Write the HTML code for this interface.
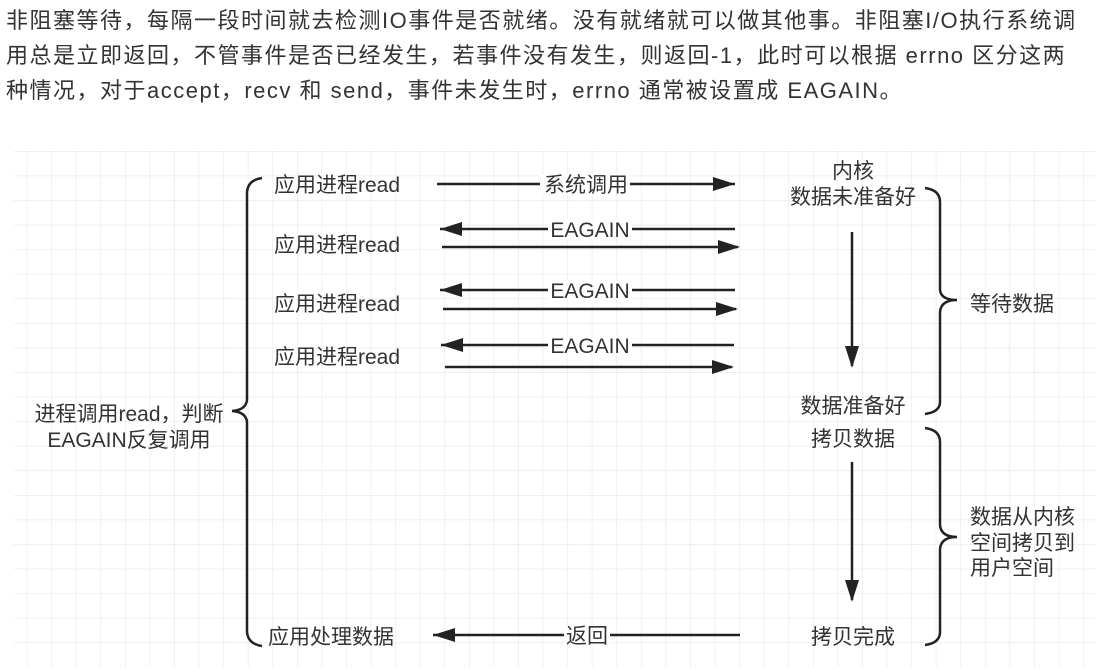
<!DOCTYPE html>
<html><head><meta charset="utf-8"><style>
html,body{margin:0;padding:0;background:#fff;width:1118px;height:670px;overflow:hidden}
.t{position:absolute;left:6px;top:3px;width:1200px;font-family:"Liberation Sans","Noto Sans CJK SC",sans-serif;font-size:22px;letter-spacing:1.5px;line-height:35px;color:#333;white-space:nowrap}
svg{position:absolute;left:0;top:0}
</style></head><body>
<div class="t">非阻塞等待，每隔一段时间就去检测IO事件是否就绪。没有就绪就可以做其他事。非阻塞I/O执行系统调<br>用总是立即返回，不管事件是否已经发生，若事件没有发生，则返回-1，此时可以根据 errno 区分这两<br>种情况，对于accept，recv 和 send，事件未发生时，errno 通常被设置成 EAGAIN。</div>
<svg width="1118" height="670" xmlns="http://www.w3.org/2000/svg">
<defs>
<pattern id="g" x="2.14" y="3.6" width="24.57" height="24.57" patternUnits="userSpaceOnUse">
<path d="M0 0H24.57M0 0V24.57" stroke="#e6e6e6" stroke-width="1.2" fill="none"/>
</pattern>
</defs>
<rect x="14" y="151" width="1083" height="516" fill="url(#g)"/>
<g stroke="#222" stroke-width="2.5" fill="none">
<path d="M262 178 Q248 180 247 192 V400 Q246 410 232 411 Q246 412 247 422 V632 Q248 644 262 646"/>
<path d="M925 188 Q940 190 940 202 V290 Q941 300 957 300 Q941 300 940 312 V402 Q940 412 925 414"/>
<path d="M925 428 Q940 430 940 442 V525 Q941 537 957 537 Q941 537 940 549 V632 Q940 643 925 645"/>
</g>
<g stroke="#222" stroke-width="2.5" fill="none">
<line x1="437" y1="184" x2="735" y2="184"/>
<line x1="735" y1="229" x2="440" y2="229"/>
<line x1="442" y1="247" x2="738" y2="247"/>
<line x1="735" y1="290" x2="440" y2="290"/>
<line x1="443" y1="309" x2="736" y2="309"/>
<line x1="734" y1="345" x2="441" y2="345"/>
<line x1="445" y1="367" x2="732" y2="367"/>
<line x1="740" y1="635" x2="433" y2="635"/>
<line x1="852" y1="232" x2="852" y2="366"/>
<line x1="852" y1="462" x2="852" y2="600"/>
</g>
<g fill="#222">
<path d="M735 184l-22-7v14z"/>
<path d="M440 229l22-7v14z"/>
<path d="M740 247l-22-7v14z"/>
<path d="M440 290l22-7v14z"/>
<path d="M738 309l-22-7v14z"/>
<path d="M441 345l22-7v14z"/>
<path d="M734 367l-22-7v14z"/>
<path d="M433 635l22-7v14z"/>
<path d="M852 368l-7-22h14z"/>
<path d="M852 602l-7-22h14z"/>
</g>
<g fill="#fff">
<rect x="540" y="174" width="90" height="20"/>
<rect x="548" y="219" width="84" height="20"/>
<rect x="548" y="280" width="84" height="20"/>
<rect x="548" y="335" width="84" height="20"/>
<rect x="564" y="625" width="46" height="20"/>
</g>
<g font-family="'Liberation Sans','Noto Sans CJK SC',sans-serif" font-size="21" fill="#333">
<text x="586" y="192" text-anchor="middle">系统调用</text>
<text x="590" y="237" text-anchor="middle">EAGAIN</text>
<text x="590" y="298" text-anchor="middle">EAGAIN</text>
<text x="590" y="353" text-anchor="middle">EAGAIN</text>
<text x="587" y="643" text-anchor="middle">返回</text>
<text x="274" y="192">应用进程read</text>
<text x="274" y="252">应用进程read</text>
<text x="274" y="311">应用进程read</text>
<text x="274" y="364">应用进程read</text>
<text x="268" y="644">应用处理数据</text>
<text x="129" y="421" text-anchor="middle">进程调用read，判断</text>
<text x="129" y="447" text-anchor="middle">EAGAIN反复调用</text>
<text x="853" y="178" text-anchor="middle">内核</text>
<text x="853" y="204" text-anchor="middle">数据未准备好</text>
<text x="853" y="413" text-anchor="middle">数据准备好</text>
<text x="853" y="446" text-anchor="middle">拷贝数据</text>
<text x="853" y="644" text-anchor="middle">拷贝完成</text>
<text x="970" y="311">等待数据</text>
<text x="970" y="524">数据从内核</text>
<text x="970" y="550">空间拷贝到</text>
<text x="970" y="575">用户空间</text>
</g>
</svg>
</body></html>
